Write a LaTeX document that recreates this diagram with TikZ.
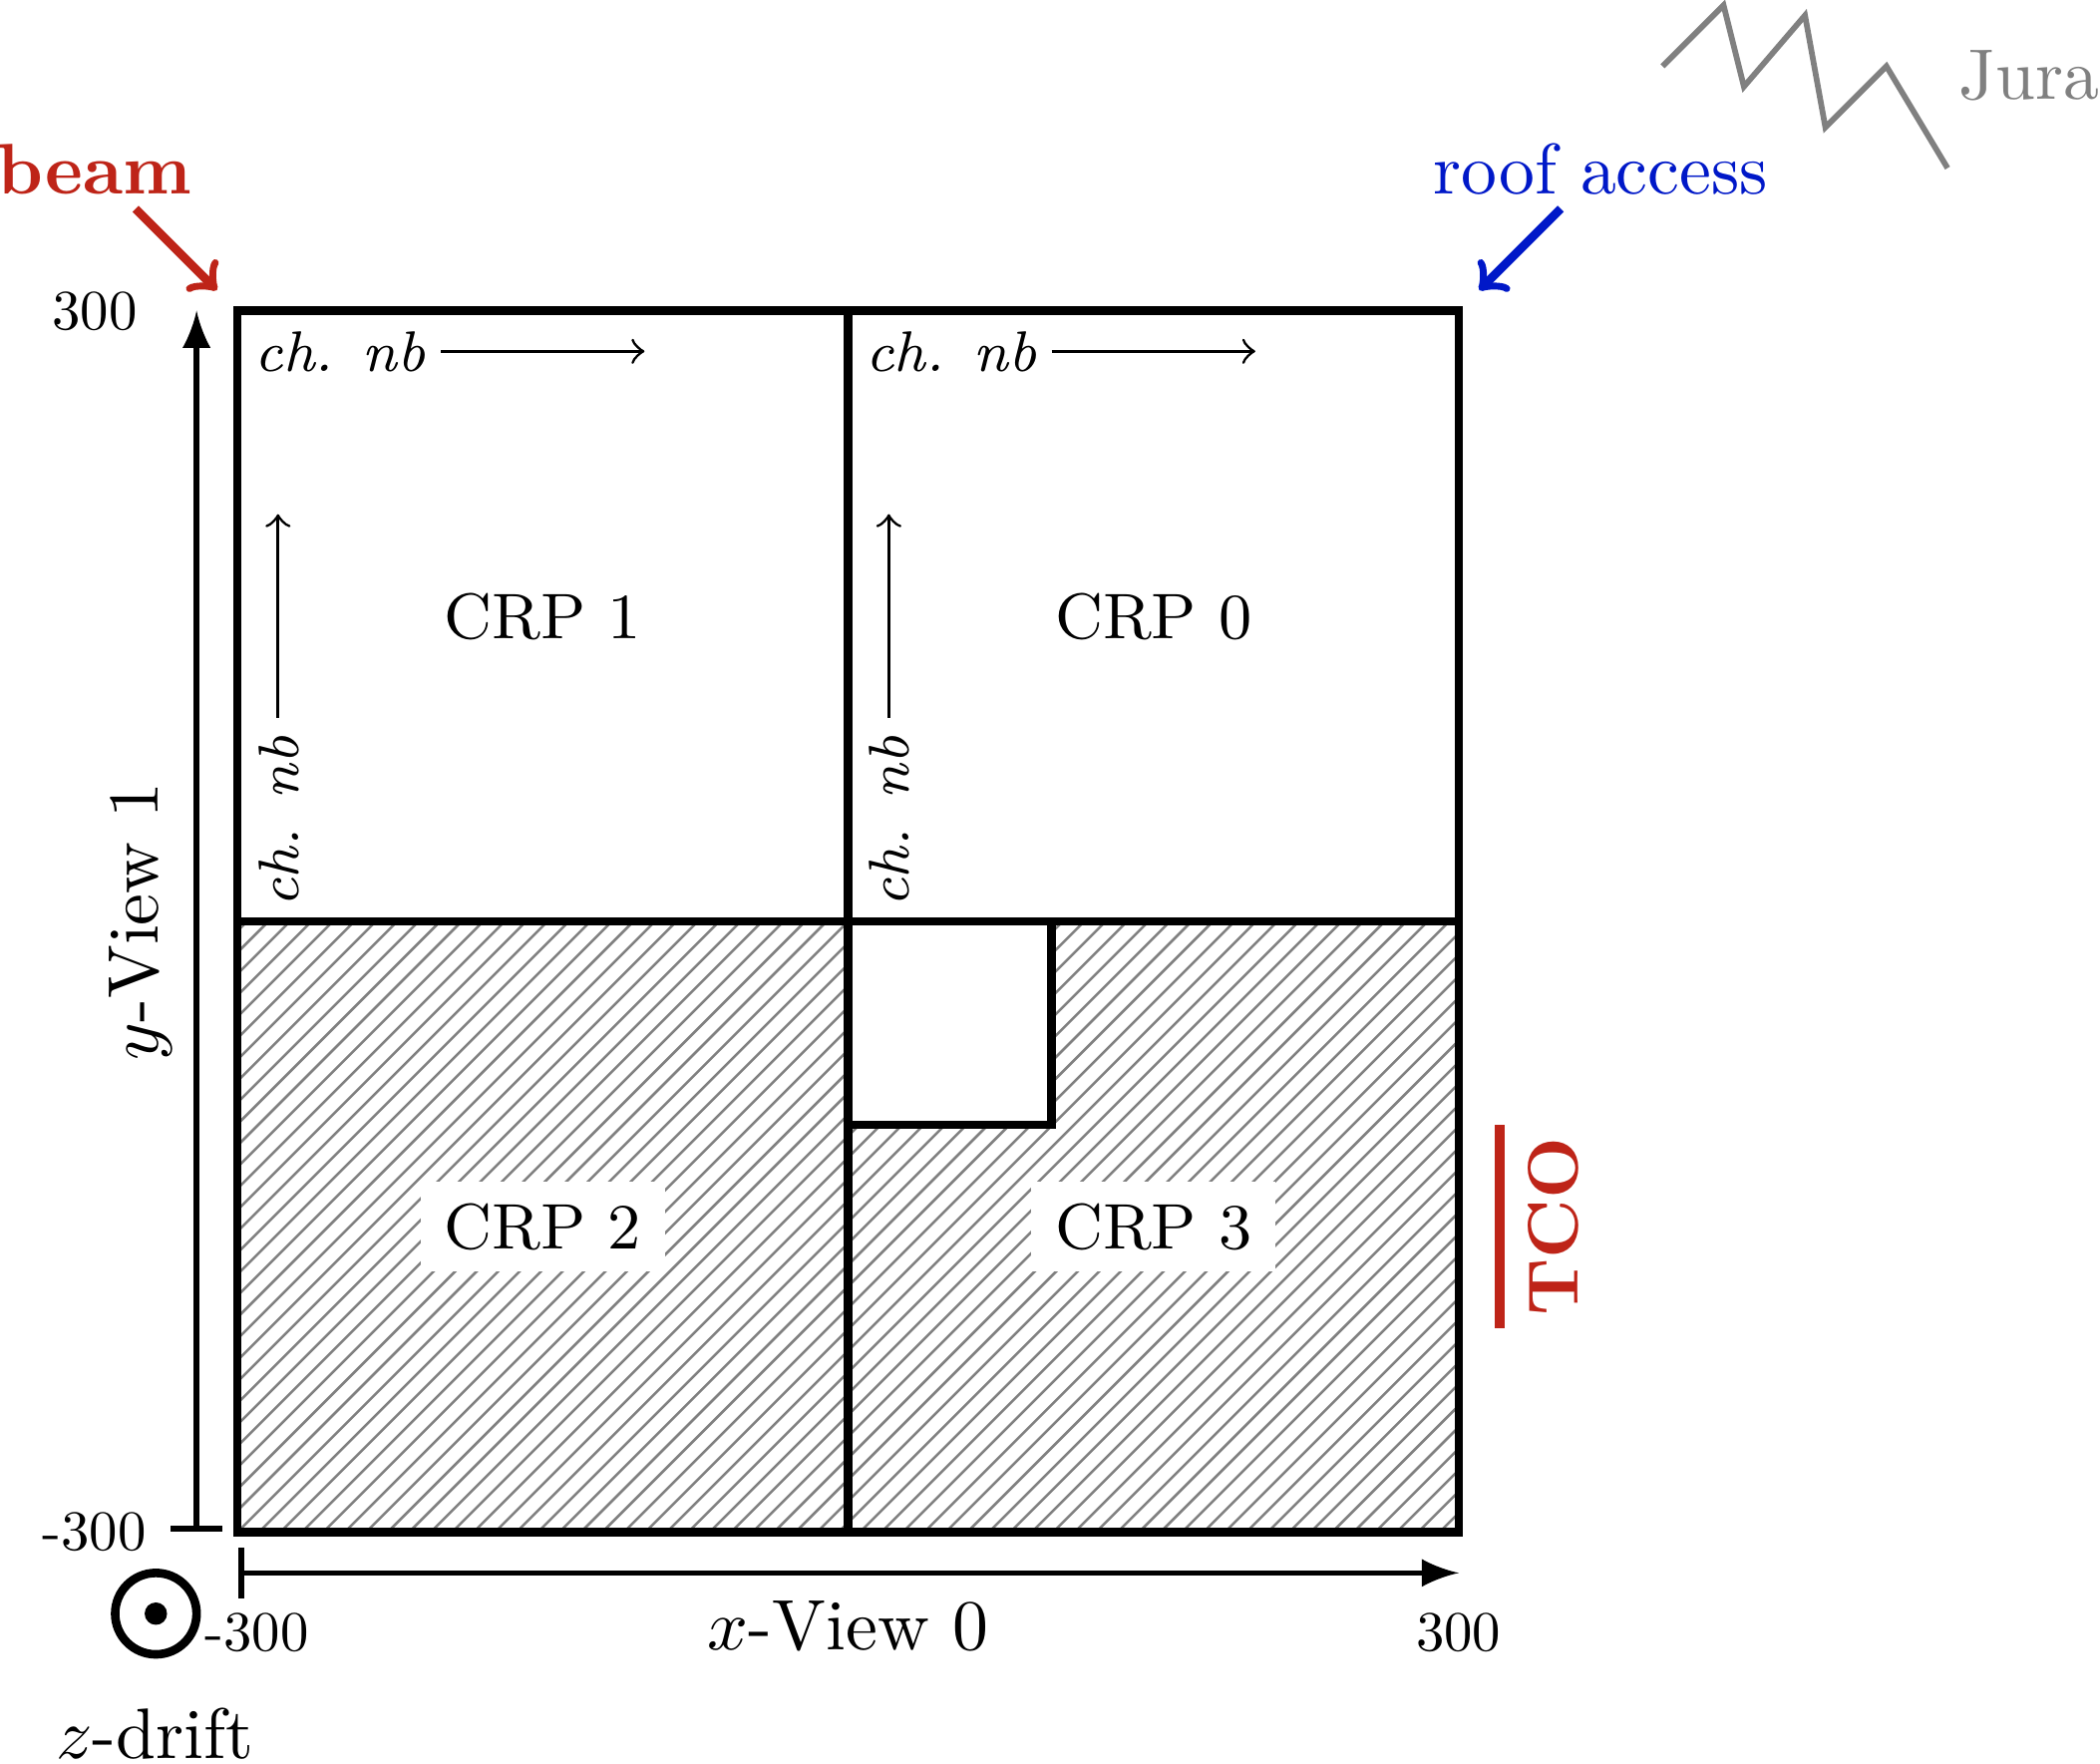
\documentclass[tikz,border=0pt]{standalone}
\definecolor{beamred}{RGB}{190,36,24}
\definecolor{roofblue}{RGB}{0,24,200}
\tikzset{
  crp/.style={font=\small,fill=white,inner ysep=3pt},
  tag/.style={inner sep=0pt},
  tick/.style={scale=0.79,inner sep=0pt,anchor=base},
  nb/.style={font=\footnotesize\itshape,inner sep=0pt,anchor=base west},
  frame/.style={very thick},
  axis/.style={thick,|-latex},
}
\begin{document}
\begin{tikzpicture}
\useasboundingbox (-4.1656,-4.1338) rectangle (6.149,4.5256);
% hatched half, 3pt apart, then the empty corner on top of it
\begin{scope}
\clip (-3,-3) rectangle (3,0);
\foreach \k in {-29,...,57} \draw[gray,line width=0.35pt] (\k*0.10544-3,-3) -- (\k*0.10544,0);
\end{scope}
\draw[frame,fill=white] (0,0) rectangle (1,-1);
\draw[frame] (-3,-3) rectangle (3,3) (-3,0) -- (3,0) (0,-3) -- (0,3);
\node[crp] (crpzero) at (1.5,1.495) {CRP 0};
\node[crp] (crpone) at (-1.5,1.495) {CRP 1};
\node[crp] (crptwo) at (-1.5,-1.5) {CRP 2};
\node[crp] (crpthree) at (1.5,-1.5) {CRP 3};
% channel directions
\node[nb] (nbonex) at (-2.92,2.7) {ch. nb};
\node[nb] (nbzerox) at (0.08,2.7) {ch. nb};
\node[nb,rotate=90] (nboney) at (-2.7,0.063) {ch. nb};
\node[nb,rotate=90] (nbzeroy) at (0.3,0.063) {ch. nb};
\coordinate (oneA) at (-2,2.8); \coordinate (oneB) at (-1,2.8);
\coordinate (zeroA) at (1,2.8); \coordinate (zeroB) at (2,2.8);
\coordinate (oneC) at (-2.8,1); \coordinate (oneD) at (-2.8,2);
\coordinate (zeroC) at (0.2,1); \coordinate (zeroD) at (0.2,2);
\draw[->] (oneA) -- (oneB);
\draw[->] (zeroA) -- (zeroB);
\draw[->] (oneC) -- (oneD);
\draw[->] (zeroC) -- (zeroD);
% axes
\coordinate (xA) at (-2.995,-3.2); \coordinate (xB) at (3,-3.2);
\coordinate (yA) at (-3.2,-2.995); \coordinate (yB) at (-3.2,3);
\draw[axis] (xA) -- (xB);
\draw[axis] (yA) -- (yB);
\node[anchor=base,tag] (xview) at (0,-3.58) {$x$-View 0};
\node[anchor=base,tag,rotate=90] (yview) at (-3.39,0) {$y$-View 1};
\node[tick] (xmin) at (-2.904,-3.585) {-300};
\node[tick] (xmax) at (2.998,-3.585) {300};
\node[tick] (ymin) at (-3.703,-3.086) {-300};
\node[tick] (ymax) at (-3.7,2.909) {300};
% drift direction
\draw[very thick] (-3.4,-3.4) circle (0.2);
\fill (-3.4,-3.4) circle (0.055);
\node[anchor=base,tag] (zdrift) at (-3.404,-4.11) {$z$-drift};
% surroundings
\node[anchor=base west,tag,text=beamred,font=\bfseries] (beam) at (-4.186,3.571) {beam};
\node[anchor=base,tag,text=roofblue] (roof) at (3.696,3.571) {roof access};
\coordinate (beamA) at (-3.5,3.5); \coordinate (beamB) at (-3.1,3.1);
\coordinate (roofA) at (3.5,3.5); \coordinate (roofB) at (3.1,3.1);
\draw[->,very thick,beamred] (beamA) -- (beamB);
\draw[->,very thick,roofblue] (roofA) -- (roofB);
\draw[thick,gray] (4,4.2) -- (4.3,4.5) -- (4.4,4.1) -- (4.7,4.45) -- (4.8,3.9) -- (5.1,4.2) -- (5.4,3.7);
\node[anchor=base west,tag,text=gray] (jura) at (5.45,4.04) {Jura};
\draw[beamred,line width=1.5pt] (3.2,-1) -- (3.2,-2);
\node[anchor=base,tag,rotate=90,text=beamred,font=\bfseries] (tco) at (3.583,-1.5) {TCO};
\end{tikzpicture}
\end{document}
